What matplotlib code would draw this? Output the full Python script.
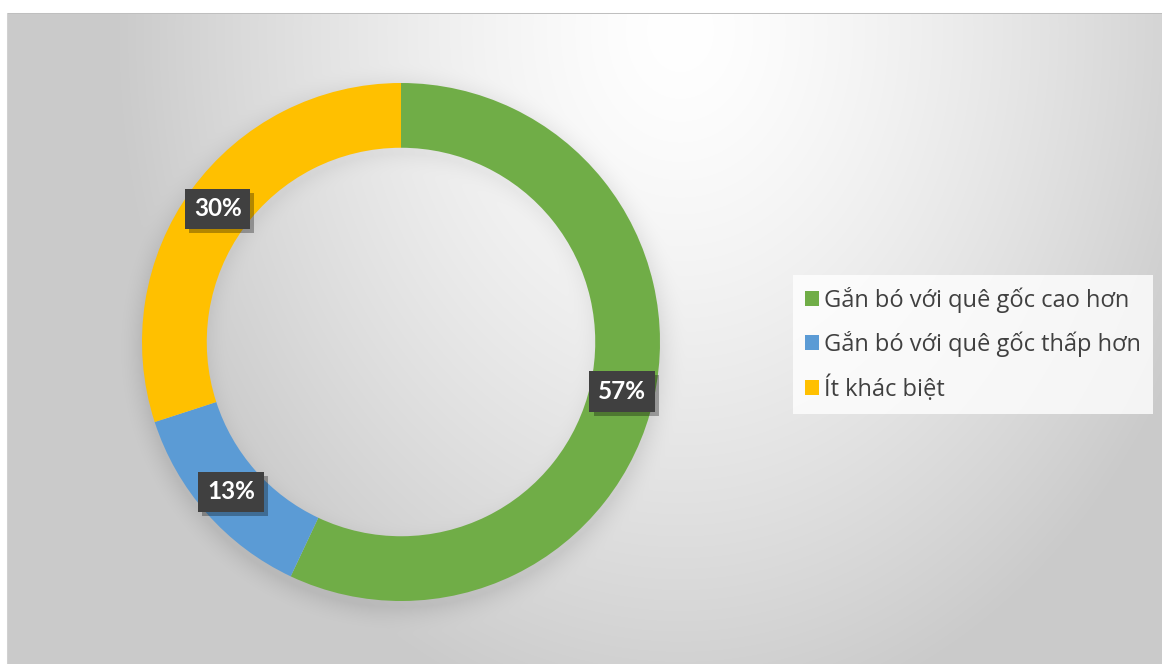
import numpy as np
import matplotlib
matplotlib.use("Agg")
import matplotlib.pyplot as plt
import matplotlib.patheffects as pe

# data
labels = ["Gắn bó với quê gốc cao hơn", "Gắn bó với quê gốc thấp hơn", "Ít khác biệt"]
values = [57, 13, 30]
colors = ["#70AD47", "#5B9BD5", "#FFC000"]

W, H = 1162, 664
cx, cy, R = 401, 342, 259
ring = 0.25

fig = plt.figure(figsize=(W / 100, H / 100), dpi=100)

# background: radial gray gradient with a soft shadow around the ring
yy, xx = np.mgrid[0:H, 0:W].astype(float)
dx = (xx - 680) / 560.0
dy = (yy - 30) / 700.0
t = np.clip(np.sqrt(dx ** 2 + dy ** 2), 0, 1.15)
v = 255 - 52 * np.clip(t, 0, 1) ** 1.4
d = np.sqrt((xx - cx) ** 2 + (yy - cy - 6) ** 2)
outer = np.clip(1 - (d - R) / 28.0, 0, 1) * (d > R - 10)
inner_r = R * (1 - ring)
inner = np.clip(1 - (inner_r - d) / 22.0, 0, 1) * (d < inner_r + 10)
v = v - 18 * outer ** 2 - 10 * inner ** 2
img = np.repeat(v[:, :, None], 3, axis=2) / 255.0
img[:13, :, :] = 1.0
img[:, :7, :] = 1.0
img[13, 7:, :] = 0.75
img[13:, 7, :] = 0.82

bg = fig.add_axes([0, 0, 1, 1])
bg.imshow(img, aspect="auto", interpolation="bilinear")
bg.set_axis_off()

ax = fig.add_axes([(cx - R) / W, (H - cy - R) / H, 2 * R / W, 2 * R / H])
wedges, _ = ax.pie(values, colors=colors, startangle=90, counterclock=False,
                   radius=1, wedgeprops=dict(width=ring, edgecolor="none"))
ax.set_xlim(-1, 1)
ax.set_ylim(-1, 1)
ax.set_facecolor("none")

for w, val in zip(wedges, values):
    ang = np.deg2rad((w.theta1 + w.theta2) / 2)
    r = 1 - ring / 2
    txt = ax.text(r * np.cos(ang), r * np.sin(ang), f"{val}%", ha="center", va="center",
                  color="white", fontsize=17.5, fontweight="bold", family="Lato",
                  bbox=dict(boxstyle="square,pad=0.36", fc="#404040", ec="none"))
    txt.get_bbox_patch().set_path_effects([
        pe.SimplePatchShadow(offset=(3, -3), shadow_rgbFace="black", alpha=0.3),
        pe.Normal()])

leg = fig.legend(wedges, labels, loc="upper left",
                 bbox_to_anchor=(793 / W, 1 - 275 / H),
                 frameon=True, fancybox=False,
                 prop=dict(family="Open Sans", size=17),
                 handlelength=0.6, handleheight=0.6, handletextpad=0.22,
                 labelspacing=0.78, borderpad=0.5, borderaxespad=0)
leg.get_frame().set_facecolor((1, 1, 1, 0.22))
leg.get_frame().set_edgecolor("none")
for tx in leg.get_texts():
    tx.set_color("#404040")

fig.savefig("out.png", dpi=100)
